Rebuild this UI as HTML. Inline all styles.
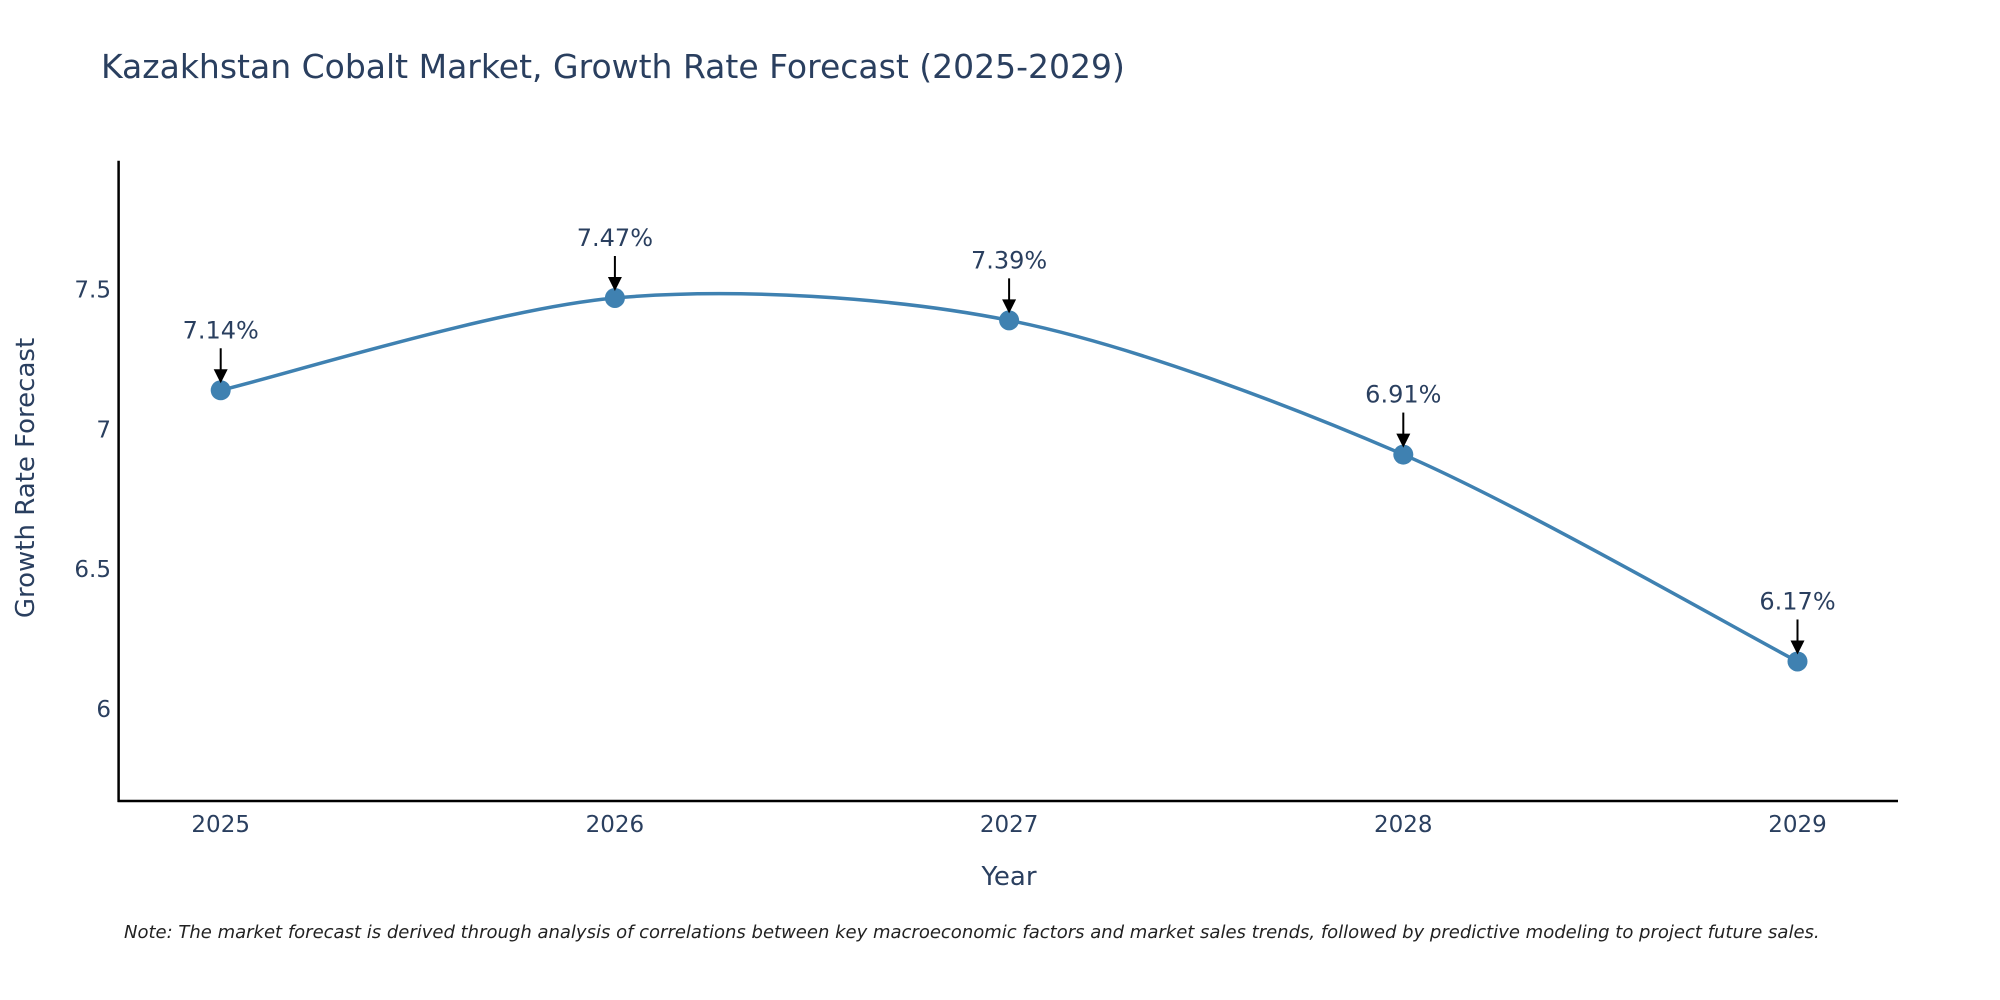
<!DOCTYPE html>
<html><head><meta charset="utf-8"><style>
html,body{margin:0;padding:0;background:#fff;}
svg{display:block;font-family:"DejaVu Sans","Liberation Sans",sans-serif;}
</style></head><body>
<svg id="chart" width="2000" height="1000" viewBox="0 0 2000 1000">
<text x="101" y="78" font-size="33" fill="#2a3f5f">Kazakhstan Cobalt Market, Growth Rate Forecast (2025-2029)</text>
<g id="axes"></g>
<g id="series"></g>
<text x="1009" y="885" font-size="26" fill="#2a3f5f" text-anchor="middle">Year</text>
<text transform="translate(34,478) rotate(-90)" font-size="26" fill="#2a3f5f" text-anchor="middle">Growth Rate Forecast</text>
<text x="124" y="938" font-size="18" font-style="italic" fill="#222">Note: The market forecast is derived through analysis of correlations between key macroeconomic factors and market sales trends, followed by predictive modeling to project future sales.</text>
</svg>
<script>
const years = [2025, 2026, 2027, 2028, 2029];
const growth = [7.14, 7.47, 7.39, 6.91, 6.17];
const labels = ["7.14%", "7.47%", "7.39%", "6.91%", "6.17%"];
const yTicks = [6, 6.5, 7, 7.5];
const yTickLabels = ["6", "6.5", "7", "7.5"];

const NS = "http://www.w3.org/2000/svg";
const X0 = 118.6, X1 = 1898, YB = 801, YT = 160.7;
const xs = v => 220.7 + (v - 2025) * 394.2;
const ys = v => 709 - (v - 6) * 279.6;
function mk(tag, attrs, parent) {
  const e = document.createElementNS(NS, tag);
  for (const k in attrs) e.setAttribute(k, attrs[k]);
  parent.appendChild(e);
  return e;
}
const axes = document.getElementById('axes');
const series = document.getElementById('series');
const ya = mk('line', {x1: X0, y1: YT, x2: X0, y2: YB + 1, stroke: '#000', 'stroke-width': 2.5}, axes);


const xa = mk('line', {x1: X0 - 1, y1: YB, x2: X1, y2: YB, stroke: '#000', 'stroke-width': 2.5}, axes);


yTicks.forEach((t, i) => {
  const tx = mk('text', {x: 111, y: ys(t) + 8, 'font-size': 23, fill: '#2a3f5f', 'text-anchor': 'end'}, axes);
  tx.textContent = yTickLabels[i];
  
  
});
years.forEach(y => {
  const tx = mk('text', {x: xs(y), y: 832, 'font-size': 23, fill: '#2a3f5f', 'text-anchor': 'middle'}, axes);
  tx.textContent = String(y);
  
  
});
const pts = years.map((y, i) => [xs(y), ys(growth[i])]);
let d = `M${pts[0][0]},${pts[0][1]}`;
const k = 0.15;
for (let i = 0; i < pts.length - 1; i++) {
  const p0 = pts[Math.max(0, i - 1)], p1 = pts[i], p2 = pts[i + 1], p3 = pts[Math.min(pts.length - 1, i + 2)];
  const c1 = [p1[0] + (p2[0] - p0[0]) * k, p1[1] + (p2[1] - p0[1]) * k];
  const c2 = [p2[0] - (p3[0] - p1[0]) * k, p2[1] - (p3[1] - p1[1]) * k];
  d += ` C${c1[0]},${c1[1]} ${c2[0]},${c2[1]} ${p2[0]},${p2[1]}`;
}
const line = mk('path', {d: d, fill: 'none', stroke: '#3f81b1', 'stroke-width': 3.5}, series);


pts.forEach((p, i) => {
  const c = mk('circle', {cx: p[0], cy: p[1], r: 10, fill: '#3f81b1'}, series);
  
  
  const a = mk('line', {x1: p[0], y1: p[1] - 42, x2: p[0], y2: p[1] - 20, stroke: '#000', 'stroke-width': 2}, series);
  
  
  const h = mk('polygon', {points: `${p[0]-7},${p[1]-21} ${p[0]+7},${p[1]-21} ${p[0]},${p[1]-7}`, fill: '#000'}, series);
  
  
  const t = mk('text', {x: p[0], y: p[1] - 52, 'font-size': 24, fill: '#2a3f5f', 'text-anchor': 'middle'}, series);
  t.textContent = labels[i];
  
  
});
</script>
</body></html>
